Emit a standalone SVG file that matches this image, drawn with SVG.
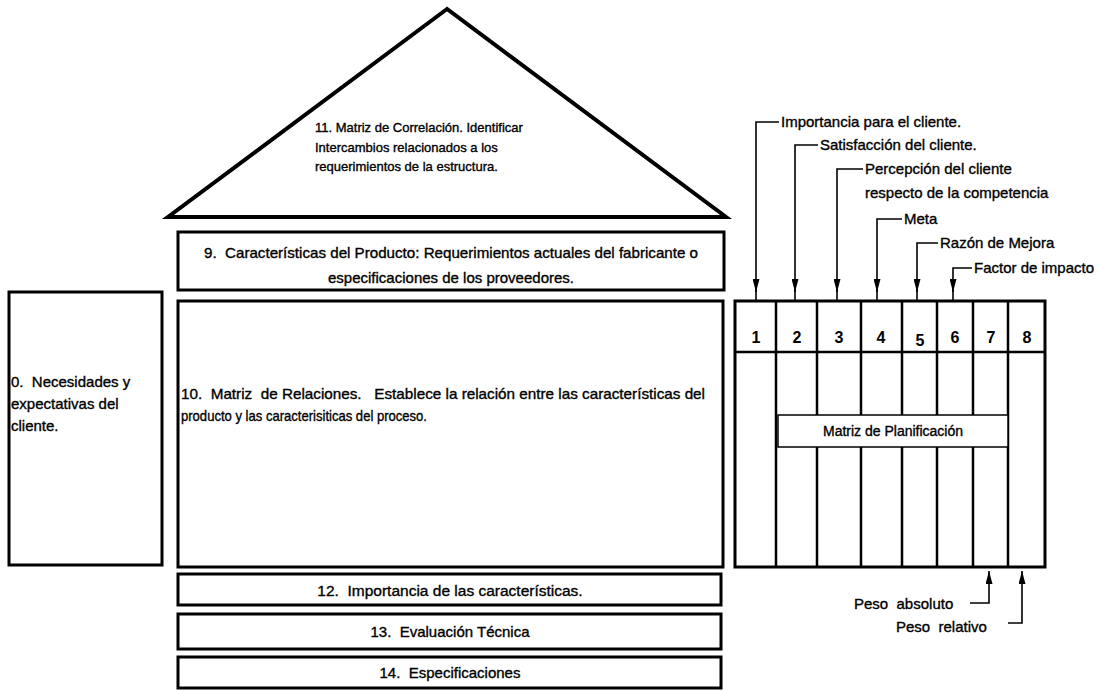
<svg xmlns="http://www.w3.org/2000/svg" width="1098" height="691" viewBox="0 0 1098 691">
  <style>
    .box { fill: #fff; stroke: #000; stroke-width: 3; }
    .thin { fill: none; stroke: #000; stroke-width: 2.5; }
    .lbl { font-family: "Liberation Sans", Arial, sans-serif; font-size: 15px; fill: #000; stroke: #000; stroke-width: 0.35; white-space: pre; }
    .num { font-family: "Liberation Sans", Arial, sans-serif; font-size: 16px; font-weight: bold; fill: #000; text-anchor: middle; }
    .mid { text-anchor: middle; }
    .lead { fill: none; stroke: #000; stroke-width: 1.6; }
  </style>
  <defs>
    <marker id="arrowHead" viewBox="0 0 13 7" refX="13" refY="3.5" markerWidth="13" markerHeight="7" markerUnits="userSpaceOnUse" orient="auto">
      <path d="M0,0 L13,3.5 L0,7 Z" fill="#000"/>
    </marker>
  </defs>

  <!-- roof: correlation matrix -->
  <g id="roof">
    <polygon points="447,9 168,217 726,217" fill="#fff" stroke="#000" stroke-width="4" stroke-linejoin="miter"/>
    <text class="lbl" style="font-size:13px" x="315" y="132">11. Matriz de Correlación. Identificar</text>
    <text class="lbl" style="font-size:13px" x="315" y="152">Intercambios relacionados a los</text>
    <text class="lbl" style="font-size:13px" x="315" y="171">requerimientos de la estructura.</text>
  </g>

  <g id="product-features">
    <rect class="box" x="178" y="232" width="546" height="58" stroke-width="4"/>
    <text class="lbl mid" x="451" y="258" textLength="494" lengthAdjust="spacingAndGlyphs">9.  Características del Producto: Requerimientos actuales del fabricante o</text>
    <text class="lbl mid" x="451" y="283">especificaciones de los proveedores.</text>
  </g>

  <g id="customer-needs">
    <rect class="box" x="9" y="292" width="153" height="273"/>
    <text class="lbl" x="11" y="387">0.  Necesidades y</text>
    <text class="lbl" x="11" y="409">expectativas del</text>
    <text class="lbl" x="11" y="431">cliente.</text>
  </g>

  <g id="relationship-matrix">
    <rect class="box" x="178" y="301" width="545" height="266"/>
    <text class="lbl" x="181" y="399" textLength="524" lengthAdjust="spacingAndGlyphs">10.  Matriz  de Relaciones.   Establece la relación entre las características del</text>
    <text class="lbl" x="181" y="421" textLength="246" lengthAdjust="spacingAndGlyphs">producto y las caracterisiticas del proceso.</text>
  </g>

  <g id="importance">
    <rect class="box" x="178" y="574" width="543" height="31"/>
    <text class="lbl mid" style="font-size:15.5px" x="450" y="596">12.  Importancia de las características.</text>
  </g>

  <g id="technical-evaluation">
    <rect class="box" x="178" y="614" width="543" height="35"/>
    <text class="lbl mid" x="450" y="637">13.  Evaluación Técnica</text>
  </g>

  <g id="specifications">
    <rect class="box" x="178" y="657" width="543" height="31"/>
    <text class="lbl mid" x="450" y="678">14.  Especificaciones</text>
  </g>

  <!-- planning matrix with eight numbered columns -->
  <g id="planning-matrix">
    <rect class="box" x="735" y="301" width="310" height="266"/>
    <line class="thin" x1="735" y1="352" x2="1045" y2="352"/>
    <line class="thin" x1="776" y1="301" x2="776" y2="567"/>
    <line class="thin" x1="817" y1="301" x2="817" y2="567"/>
    <line class="thin" x1="861" y1="301" x2="861" y2="567"/>
    <line class="thin" x1="902" y1="301" x2="902" y2="567"/>
    <line class="thin" x1="937" y1="301" x2="937" y2="567"/>
    <line class="thin" x1="973" y1="301" x2="973" y2="567"/>
    <line class="thin" x1="1008" y1="301" x2="1008" y2="567"/>
    <text class="num" x="756" y="343">1</text>
    <text class="num" x="797" y="343">2</text>
    <text class="num" x="839" y="343">3</text>
    <text class="num" x="881" y="343">4</text>
    <text class="num" x="920" y="346">5</text>
    <text class="num" x="955" y="343">6</text>
    <text class="num" x="991" y="343">7</text>
    <text class="num" x="1027" y="343">8</text>
    <rect x="778" y="415" width="230" height="32" fill="#fff" stroke="#000" stroke-width="1.5"/>
    <text class="lbl mid" style="font-size:14px" x="893" y="436">Matriz de Planificación</text>
  </g>

  <!-- leader arrows naming each column -->
  <g id="connectors">
    <polyline class="lead" points="779,122 756,122 756,292" marker-end="url(#arrowHead)"/>
    <polyline class="lead" points="818,145 795,145 795,292" marker-end="url(#arrowHead)"/>
    <polyline class="lead" points="863,169 837,169 837,292" marker-end="url(#arrowHead)"/>
    <polyline class="lead" points="902,219 877,219 877,292" marker-end="url(#arrowHead)"/>
    <polyline class="lead" points="938,243 917,243 917,292" marker-end="url(#arrowHead)"/>
    <polyline class="lead" points="972,268 953,268 953,292" marker-end="url(#arrowHead)"/>
    <line class="lead" x1="756" y1="290" x2="756" y2="301"/>
    <line class="lead" x1="795" y1="290" x2="795" y2="301"/>
    <line class="lead" x1="837" y1="290" x2="837" y2="301"/>
    <line class="lead" x1="877" y1="290" x2="877" y2="301"/>
    <line class="lead" x1="917" y1="290" x2="917" y2="301"/>
    <line class="lead" x1="953" y1="290" x2="953" y2="301"/>
    <polyline class="lead" points="970,603 989,603 989,571" marker-end="url(#arrowHead)"/>
    <polyline class="lead" points="1008,623 1022,623 1022,571" marker-end="url(#arrowHead)"/>
  </g>

  <g id="column-labels">
    <text class="lbl" x="781" y="127">Importancia para el cliente.</text>
    <text class="lbl" x="820" y="150">Satisfacción del cliente.</text>
    <text class="lbl" x="865" y="174">Percepción del cliente</text>
    <text class="lbl" x="865" y="198">respecto de la competencia</text>
    <text class="lbl" x="904" y="224">Meta</text>
    <text class="lbl" x="940" y="248">Razón de Mejora</text>
    <text class="lbl" x="974" y="273">Factor de impacto</text>
    <text class="lbl" x="854" y="609">Peso  absoluto</text>
    <text class="lbl" x="896" y="632">Peso  relativo</text>
  </g>
</svg>
